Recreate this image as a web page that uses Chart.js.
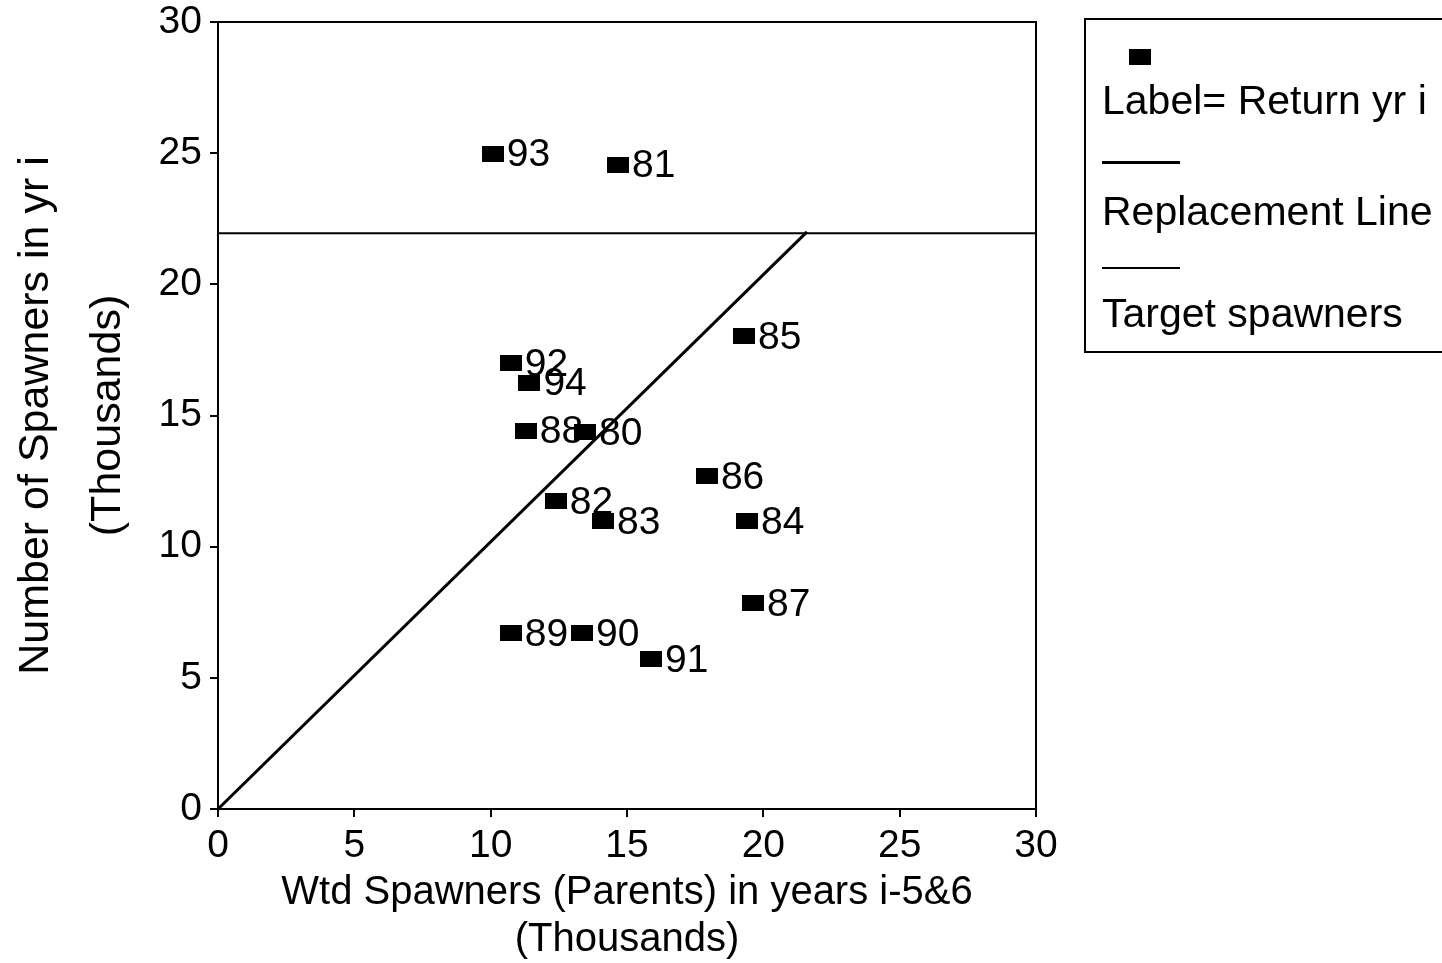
<!DOCTYPE html>
<html>
<head>
<meta charset="utf-8">
<title>Spawners vs parents</title>
<script src="https://cdn.jsdelivr.net/npm/chart.js@4/dist/chart.umd.min.js"></script>
<style>
  html, body { margin: 0; padding: 0; background: #fff; overflow: hidden; }
  #wrap { position: relative; width: 1442px; height: 963px; }
  #legend {
    position: absolute; left: 1084px; top: 18px; width: 420px; height: 331px;
    border: 2px solid #000; font-family: "Liberation Sans", Arial, sans-serif;
    font-size: 41px; line-height: 41px; color: #000;
  }
  #legend .item { position: absolute; left: 16px; white-space: nowrap; }
  #legend .mark { position: absolute; left: 43px; top: 29px; width: 22px; height: 16px; background: #000; }
  #legend .seg { position: absolute; left: 16px; width: 78px; background: #000; }
</style>
</head>
<body>
<div id="wrap">
  <canvas id="chart" width="1442" height="963"></canvas>
  <div id="legend">
    <div class="mark"></div>
    <div class="item" style="top:60px">Label= Return yr i</div>
    <div class="seg" style="top:141px;height:3px"></div>
    <div class="item" style="top:171px">Replacement Line</div>
    <div class="seg" style="top:247px;height:2px"></div>
    <div class="item" style="top:273px">Target spawners</div>
  </div>
</div>
<script>
// return years (labels) and the spawner numbers, thousands
const years = ['80', '81', '82', '83', '84', '85', '86', '87', '88', '89', '90', '91', '92', '93', '94'];
const parents = [13.46, 14.67, 12.39, 14.12, 19.40, 19.29, 17.93, 19.62, 11.29, 10.74, 13.35, 15.88, 10.74, 10.08, 11.42];
const spawners = [14.38, 24.56, 11.73, 10.98, 10.98, 18.04, 12.70, 7.86, 14.42, 6.71, 6.71, 5.72, 16.99, 24.98, 16.25];

const replacementX = [0, 21.6];
const replacementY = [0, 22.0];
const targetX = [0, 30];
const targetY = [21.95, 21.95];

const axisTicks = [0, 5, 10, 15, 20, 25, 30];

Chart.defaults.font.family = '"Liberation Sans", Arial, sans-serif';
Chart.defaults.color = '#000';

// filled square used as point marker
const marker = document.createElement('canvas');
marker.width = 22;
marker.height = 16;
const mctx = marker.getContext('2d');
mctx.fillStyle = '#000';
mctx.fillRect(0, 0, 22, 16);

const toPoints = (xs, ys) => xs.map((x, i) => ({ x: x, y: ys[i] }));

const frame = {
    id: 'frame',
    afterDraw(chart) {
        const { ctx, chartArea: a } = chart;
        ctx.save();
        ctx.strokeStyle = '#000';
        ctx.lineWidth = 2;
        ctx.beginPath();
        ctx.moveTo(a.left, a.top);
        ctx.lineTo(a.right, a.top);
        ctx.lineTo(a.right, a.bottom);
        ctx.stroke();
        ctx.restore();
    }
};

const pointLabels = {
    id: 'pointLabels',
    afterDatasetsDraw(chart) {
        const ctx = chart.ctx;
        const meta = chart.getDatasetMeta(0);
        ctx.save();
        ctx.fillStyle = '#000';
        ctx.font = '39px "Liberation Sans", Arial, sans-serif';
        ctx.textAlign = 'left';
        ctx.textBaseline = 'middle';
        meta.data.forEach((pt, i) => {
            ctx.fillText(years[i], pt.x + 14, pt.y + 2);
        });
        ctx.restore();
    }
};

const axisCommon = {
    type: 'linear',
    min: 0,
    max: 30,
    afterBuildTicks: s => { s.ticks = axisTicks.map(v => ({ value: v })); },
    grid: { drawOnChartArea: false, drawTicks: true, tickLength: 8, color: '#000', lineWidth: 2 },
    border: { color: '#000', width: 2 }
};

new Chart(document.getElementById('chart'), {
    type: 'scatter',
    data: {
        datasets: [{
            label: 'Label= Return yr i',
            data: toPoints(parents, spawners),
            pointStyle: marker,
            pointRadius: 11,
            backgroundColor: '#000',
            borderColor: '#000'
        }, {
            label: 'Replacement Line',
            data: toPoints(replacementX, replacementY),
            showLine: true,
            pointRadius: 0,
            borderColor: '#000',
            borderWidth: 3
        }, {
            label: 'Target spawners',
            data: toPoints(targetX, targetY),
            showLine: true,
            pointRadius: 0,
            borderColor: '#000',
            borderWidth: 2
        }]
    },
    options: {
        responsive: false,
        animation: false,
        layout: { padding: { top: 22, right: 406, bottom: 0, left: 0 } },
        plugins: { legend: { display: false }, tooltip: { enabled: false } },
        scales: {
            x: {
                ...axisCommon,
                ticks: { font: { size: 39, lineHeight: 1.0 }, padding: 10, color: '#000' },
                title: {
                    display: true,
                    text: ['Wtd Spawners (Parents) in years i-5&6', '(Thousands)'],
                    font: { size: 40, lineHeight: 1.175 },
                    padding: 0,
                    color: '#000'
                },
                afterFit: s => { s.height = 154; }
            },
            y: {
                ...axisCommon,
                ticks: { font: { size: 39, lineHeight: 0.7 }, padding: 8, color: '#000' },
                title: {
                    display: true,
                    text: ['Number of Spawners in yr i', '(Thousands)'],
                    font: { size: 43, lineHeight: 1.674 },
                    padding: 0,
                    color: '#000'
                },
                afterFit: s => { s.width = 218; }
            }
        }
    },
    plugins: [frame, pointLabels]
});
</script>
</body>
</html>
